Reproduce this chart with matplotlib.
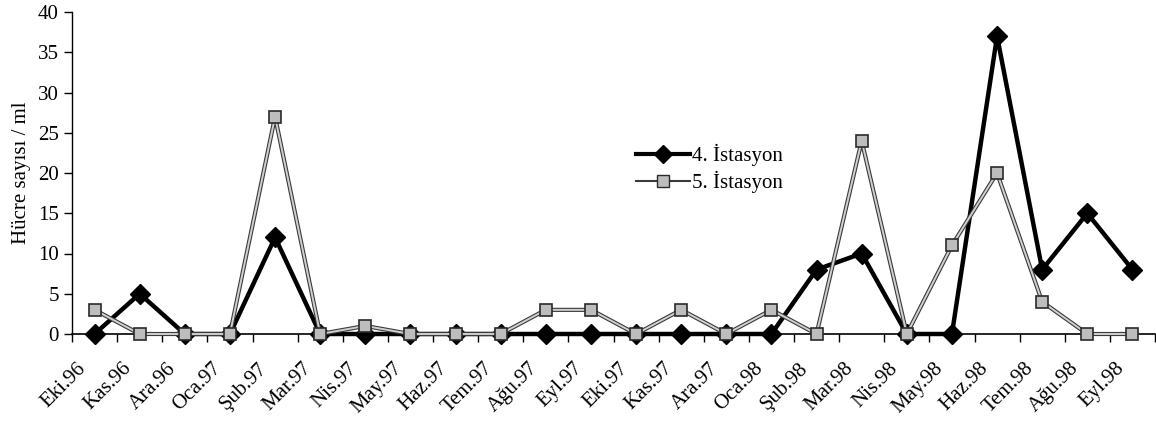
import numpy as np
import matplotlib
matplotlib.use("Agg")
import matplotlib.pyplot as plt
import matplotlib.transforms as mtrans
from matplotlib.lines import Line2D

plt.rcParams['font.family'] = ['Liberation Serif', 'DejaVu Serif']

months = ['Eki.96', 'Kas.96', 'Ara.96', 'Oca.97', 'Şub.97', 'Mar.97', 'Nis.97',
          'May.97', 'Haz.97', 'Tem.97', 'Ağu.97', 'Eyl.97', 'Eki.97', 'Kas.97',
          'Ara.97', 'Oca.98', 'Şub.98', 'Mar.98', 'Nis.98', 'May.98', 'Haz.98',
          'Tem.98', 'Ağu.98', 'Eyl.98']
ist4 = [0, 5, 0, 0, 12, 0, 0, 0, 0, 0, 0, 0, 0, 0, 0, 0, 8, 10, 0, 0, 37, 8, 15, 8]
ist5 = [3, 0, 0, 0, 27, 0, 1, 0, 0, 0, 3, 3, 0, 3, 0, 3, 0, 24, 0, 11, 20, 4, 0, 0]
yticks = [0, 5, 10, 15, 20, 25, 30, 35, 40]

fig = plt.figure(figsize=(11.56, 4.22), dpi=100)
ax = fig.add_axes([72/1156, 88/422, 1083/1156, 322/422])
x = np.arange(len(months))

# station 4: thick black line with diamonds
ax.plot(x, ist4, color='black', lw=3.2, marker='D', ms=10,
        mfc='black', mec='black', clip_on=False, zorder=3)
# station 5: grey "double" line with grey squares
ax.plot(x, ist5, color='#3a3a3a', lw=3.0, clip_on=False, zorder=4)
ax.plot(x, ist5, color='#d0d0d0', lw=1.4, marker='s', ms=9,
        mfc='#bdbdbd', mec='#2a2a2a', mew=1.2, clip_on=False, zorder=5)

ax.set_xlim(-0.5, len(months) - 0.5)
ax.set_ylim(0, 40)
ax.set_yticks(yticks)
ax.set_xticks(x)
ax.set_xticklabels([])
# month labels, placed a bit left of each category and rotated
off = mtrans.ScaledTranslation(-0.18, -0.25, fig.dpi_scale_trans)
for i, m in enumerate(months):
    ax.text(i, 0, m, transform=ax.get_xaxis_transform() + off,
            rotation=45, ha='right', va='top', rotation_mode='anchor',
            fontsize=15)
ax.set_xticks(np.arange(-0.5, len(months)), minor=True)
ax.tick_params(axis='x', which='major', length=0)
ax.tick_params(axis='x', which='minor', length=6, direction='out', width=1)
ax.tick_params(axis='y', length=6, direction='out', labelsize=15, width=1)
for s in ['top', 'right']:
    ax.spines[s].set_visible(False)
ax.spines['left'].set_linewidth(1)
ax.spines['bottom'].set_linewidth(1.2)
ax.set_ylabel('Hücre sayısı / ml', fontsize=15, labelpad=5)

handles = [
    Line2D([], [], color='black', lw=3, marker='D', ms=9, mfc='black', mec='black'),
    Line2D([], [], color='#3a3a3a', lw=1.5, marker='s', ms=8, mfc='#bdbdbd', mec='#2a2a2a'),
]
fig.legend(handles, ['4. İstasyon', '5. İstasyon'], loc='upper left',
           bbox_to_anchor=(617/1156, 1 - 125/422), frameon=False,
           fontsize=15, handlelength=2.6, handletextpad=0.1, labelspacing=0.25)

fig.savefig('out.png', dpi=100)
